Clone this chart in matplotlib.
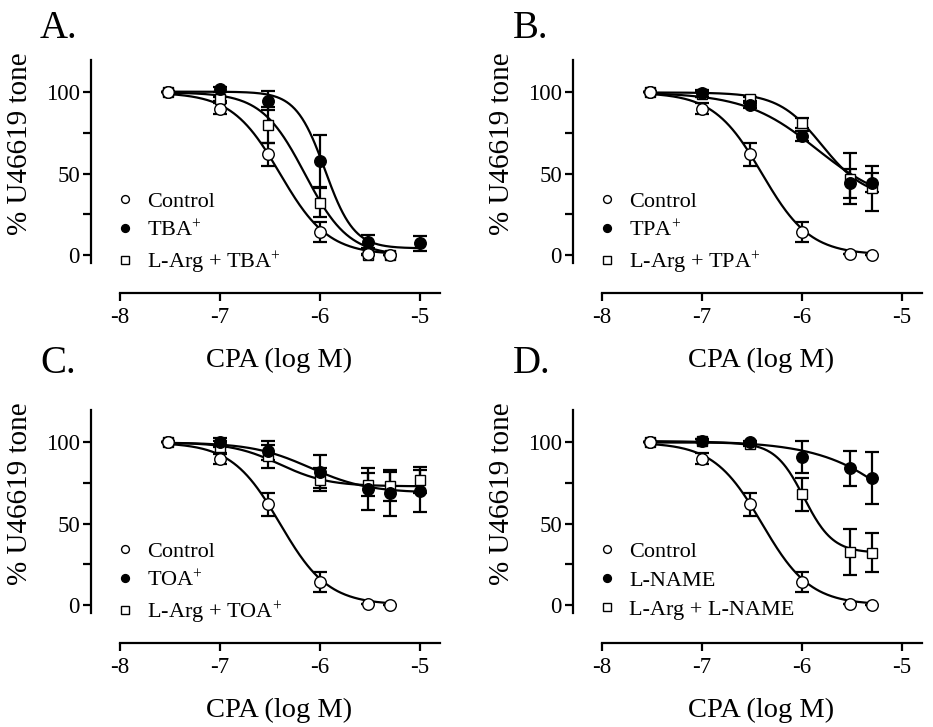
import numpy as np
from matplotlib import pyplot as plt

plt.rcParams['font.family'] = ['Liberation Serif', 'DejaVu Serif']
plt.rcParams['mathtext.fontset'] = 'custom'
plt.rcParams['mathtext.rm'] = 'Liberation Serif'
plt.rcParams['mathtext.default'] = 'regular'

## DATA
logcpa   = [-7.52, -7.0, -6.52, -6.0, -5.52, -5.3]
logcpa_a = [-7.52, -7.0, -6.52, -6.0, -5.52, -5.0]
logcpa_c = [-7.52, -7.0, -6.52, -6.0, -5.52, -5.3, -5.0]

control_y   = [100, 90, 62, 14, 0.5, 0]
control_err = [0, 3.5, 7, 6, 0, 0]

tba_y      = [100, 102, 95, 58, 8, 7]
tba_err    = [0, 1.5, 6, 16, 4, 4.5]
larg_tba_y   = [100, 96, 80, 32, 0, 0]
larg_tba_err = [0, 1.5, 11, 9, 0, 0]

tpa_y      = [100, 99.5, 92, 73, 44, 44.5]
tpa_err    = [0, 2, 1.5, 3, 9, 6]
larg_tpa_y   = [100, 99, 96, 81, 47, 41]
larg_tpa_err = [0, 1.5, 1, 3, 15.5, 14]

toa_y      = [100, 100, 95, 82, 71.5, 69, 70]
toa_err    = [0, 3, 6, 10, 13, 14, 13]
larg_toa_y   = [100, 97, 91.5, 77, 74, 73, 77]
larg_toa_err = [0, 4, 7, 7, 7, 9, 8]

lname_y      = [100, 101, 100, 91, 84, 78]
lname_err    = [0, 1, 1, 10, 10.5, 16]
larg_lname_y   = [100, 101, 99, 68, 32.5, 32]
larg_lname_err = [0, 1, 1, 10, 14, 12]

# sigmoid fit parameters: top, bottom, logIC50, hill slope
fit_control    = (100, 0, -6.40, 1.8)
fit_tba        = (100.5, 4, -5.95, 3.0)
fit_larg_tba   = (100, -0.5, -6.15, 2.0)
fit_tpa        = (100, 30, -5.85, 1.2)
fit_larg_tpa   = (100, 35, -5.80, 2.0)
fit_toa        = (100, 69, -6.10, 1.5)
fit_larg_toa   = (100, 73, -6.40, 1.8)
fit_lname      = (101, 0, -4.80, 1.0)
fit_larg_lname = (100, 32, -5.98, 3.0)
## END DATA

W, H = 933, 727
fig = plt.figure(figsize=(W/100, H/100), dpi=100)

def sigmoid(x, p):
    top, bot, c, h = p
    return bot + (top - bot) / (1 + 10**(h*(x - c)))

def panel(box, letter, letter_xy, series, labels):
    l, t, r, b = box
    ax = fig.add_axes([l/W, 1-b/H, (r-l)/W, (b-t)/H])
    ax.set_xlim(-8.29, -4.8)
    ax.set_ylim(-23.5, 120)
    for s in ['top', 'right']:
        ax.spines[s].set_visible(False)
    ax.spines['left'].set_bounds(-5, 120)
    ax.spines['bottom'].set_bounds(-8, -4.8)
    for s in ['left', 'bottom']:
        ax.spines[s].set_linewidth(1.6)
    ax.set_yticks([0, 25, 50, 75, 100])
    ax.set_yticklabels(['0', '', '50', '', '100'])
    ax.set_xticks([-8, -7, -6, -5])
    ax.set_xticklabels(['-8', '-7', '-6', '-5'])
    ax.tick_params(labelsize=16.5, width=1.6, length=6, pad=2)
    ax.tick_params(axis='x', pad=4)
    ax.set_xlabel("CPA (log M)", size=20.5)
    ax.xaxis.set_label_coords(0.54, -0.235)
    ax.set_ylabel("% U46619 tone", size=21)
    ax.yaxis.set_label_coords(-0.165, 0.642)

    styles = [('o', 'white'), ('o', 'black'), ('s', 'white')]
    handles = []
    # draw squares first, then filled, then open circles on top
    for idx in [2, 1, 0]:
        x, y, err, fit = series[idx]
        mk, fc = styles[idx]
        xx = np.linspace(x[0], x[-1], 200)
        ax.plot(xx, sigmoid(xx, fit), color='k', lw=1.6, zorder=2)
        ax.errorbar(x, y, yerr=err, fmt='none', ecolor='k', elinewidth=1.6,
                    capsize=5, capthick=1.6, zorder=3)
        ms = 7.8 if mk == 's' else 8.3
        h, = ax.plot(x, y, mk, mfc=fc, mec='k', mew=1.0, ms=ms, ls='none',
                     zorder=4 + (2 - idx), label=labels[idx])
        handles.append(h)
    handles = handles[::-1]
    ax.legend(handles, labels, loc='upper left', bbox_to_anchor=(0.065, 0.438),
              frameon=False, fontsize=16, handlelength=1.0, handletextpad=0.5,
              labelspacing=0.38, borderpad=0, borderaxespad=0, markerscale=0.68)
    fig.text(letter_xy[0]/W, 1-letter_xy[1]/H, letter, size=28, va='baseline')
    return ax

ctrl = (logcpa, control_y, control_err, fit_control)

panel((91, 60, 440, 293), 'A.', (40, 38),
      [ctrl, (logcpa_a, tba_y, tba_err, fit_tba),
       (logcpa, larg_tba_y, larg_tba_err, fit_larg_tba)],
      ['Control', 'TBA$^{+}$', 'L-Arg + TBA$^{+}$'])

panel((573, 60, 922, 293), 'B.', (513, 38),
      [ctrl, (logcpa, tpa_y, tpa_err, fit_tpa),
       (logcpa, larg_tpa_y, larg_tpa_err, fit_larg_tpa)],
      ['Control', 'TPA$^{+}$', 'L-Arg + TPA$^{+}$'])

panel((91, 410, 440, 643), 'C.', (40, 373),
      [ctrl, (logcpa_c, toa_y, toa_err, fit_toa),
       (logcpa_c, larg_toa_y, larg_toa_err, fit_larg_toa)],
      ['Control', 'TOA$^{+}$', 'L-Arg + TOA$^{+}$'])

panel((573, 410, 922, 643), 'D.', (513, 373),
      [ctrl, (logcpa, lname_y, lname_err, fit_lname),
       (logcpa, larg_lname_y, larg_lname_err, fit_larg_lname)],
      ['Control', 'L-NAME', 'L-Arg + L-NAME'])

plt.savefig("out.png", dpi=100)
